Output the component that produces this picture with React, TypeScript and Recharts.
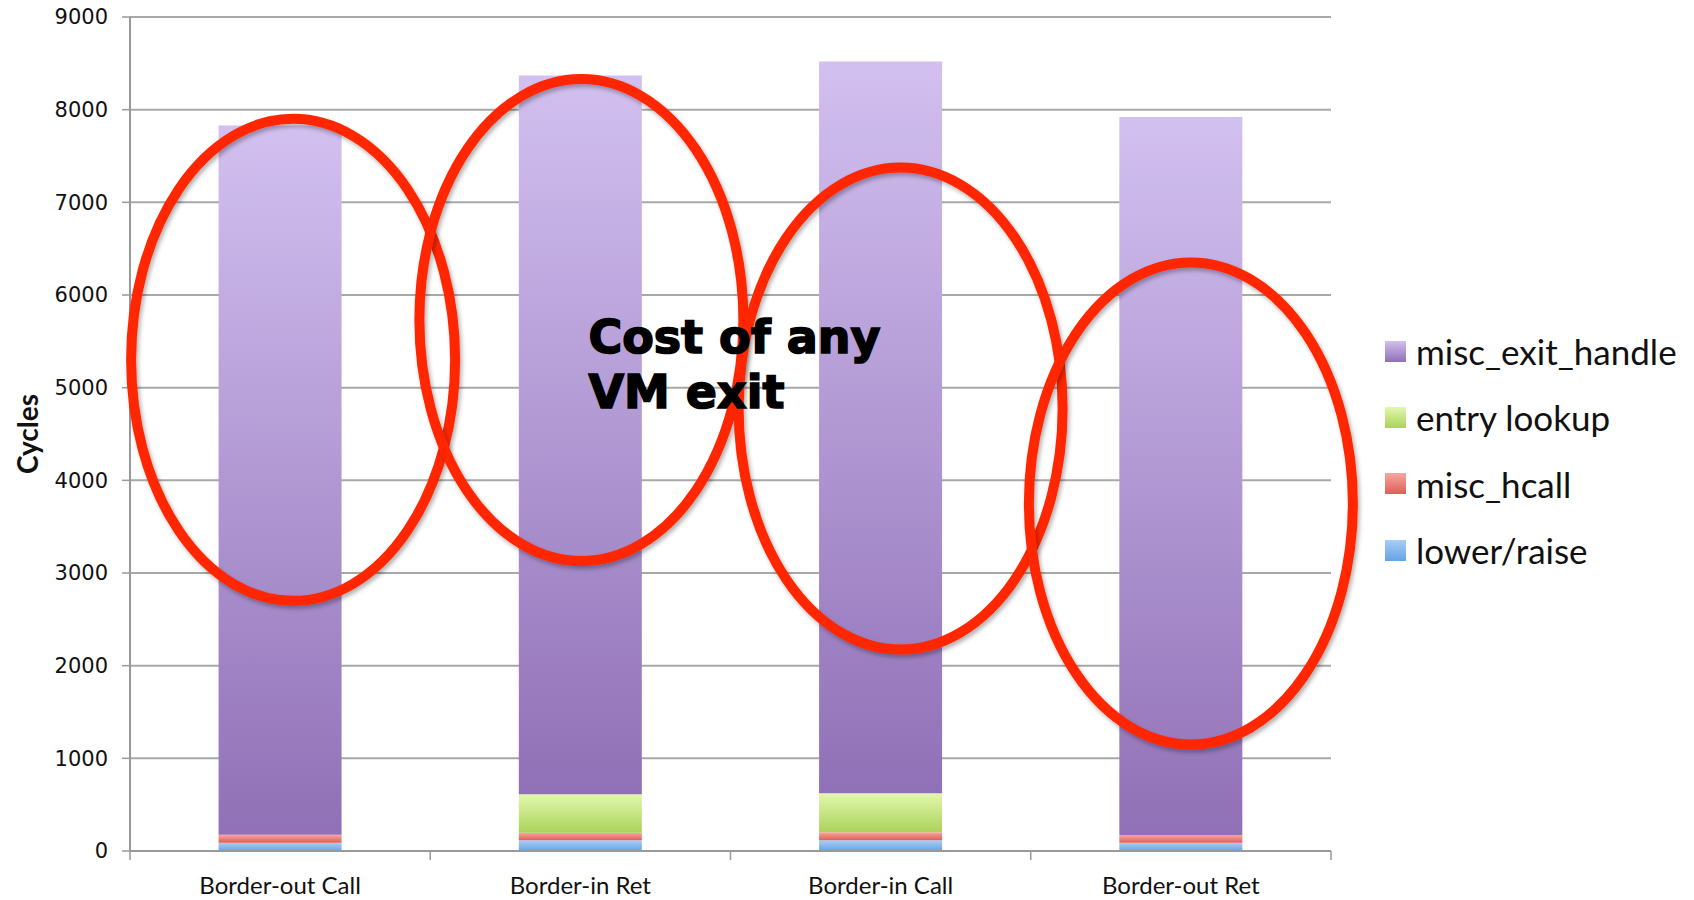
import React from "react";
import {
  Bar,
  BarChart,
  CartesianGrid,
  ReferenceDot,
  XAxis,
  YAxis,
} from "recharts";

const categories = [
  "Border-out Call",
  "Border-in Ret",
  "Border-in Call",
  "Border-out Ret",
];
const lowerRaise = [90, 115, 115, 88];
const miscHcall = [85, 82, 88, 84];
const entryLookup = [0, 415, 420, 0];
const miscExitHandle = [7655, 7758, 7897, 7748];
const yTicks = [0, 1000, 2000, 3000, 4000, 5000, 6000, 7000, 8000, 9000];

// red ovals drawn over the bars (centre in cycles, one per category)
const ovalCenters = [5300, 5730, 4775, 3750];
const ovalShift = [13, 1, 20, 10];
const calloutLines = ["Cost of any", "VM exit"];

const series = [
  { key: "lowerRaise", name: "lower/raise", top: "#a9cdf6", bottom: "#65a3e6" },
  { key: "miscHcall", name: "misc_hcall", top: "#f8a7a1", bottom: "#df5d55" },
  { key: "entryLookup", name: "entry lookup", top: "#e2f8ae", bottom: "#abd25a" },
  { key: "miscExitHandle", name: "misc_exit_handle", top: "#d2c0f0", bottom: "#9070b6" },
];

const data = categories.map((name, i) => ({
  name,
  lowerRaise: lowerRaise[i],
  miscHcall: miscHcall[i],
  entryLookup: entryLookup[i],
  miscExitHandle: miscExitHandle[i],
}));

function CategoryTick(props: any) {
  const { x, y, payload, index } = props;
  const half = payload.offset || 150;
  const last = index === categories.length - 1;
  return (
    <g>
      <line x1={x - half} x2={x - half} y1={y - 9} y2={y} stroke="#999" strokeWidth={1.5} />
      {last && (
        <line x1={x + half} x2={x + half} y1={y - 9} y2={y} stroke="#999" strokeWidth={1.5} />
      )}
      <text
        x={x}
        y={y + 34}
        textAnchor="middle"
        fontFamily="Lato, 'Open Sans', sans-serif"
        fontSize={24}
        fill="#111"
      >
        {payload.value}
      </text>
    </g>
  );
}

export default function App() {
  return (
    <div style={{ position: "absolute", left: 0, top: 0, width: 1694, height: 900, background: "#fff" }}>
      <BarChart
        width={1694}
        height={900}
        data={data}
        margin={{ top: 17, right: 363, bottom: 0, left: 0 }}
        barCategoryGap="29.5%"
      >
        <defs>
          {series.map((s) => (
            <linearGradient key={s.key} id={`grad-${s.key}`} x1="0" y1="0" x2="0" y2="1">
              <stop offset="0%" stopColor={s.top} />
              <stop offset="100%" stopColor={s.bottom} />
            </linearGradient>
          ))}
          <filter id="ovalShadow" x="-20%" y="-20%" width="140%" height="140%">
            <feDropShadow dx="2" dy="3" stdDeviation="2" floodColor="#000" floodOpacity="0.3" />
          </filter>
        </defs>
        <CartesianGrid vertical={false} stroke="#a8a8a8" strokeWidth={2} />
        <XAxis
          dataKey="name"
          interval={0}
          height={49}
          tickLine={false}
          tickSize={9}
          tickMargin={0}
          axisLine={{ stroke: "#999", strokeWidth: 2 }}
          tick={<CategoryTick />}
        />
        <YAxis
          width={130}
          domain={[0, 9000]}
          ticks={yTicks}
          interval={0}
          tickSize={8}
          tickMargin={14}
          axisLine={{ stroke: "#999", strokeWidth: 2 }}
          tickLine={{ stroke: "#999", strokeWidth: 1.5 }}
          tick={{ fontFamily: "'DejaVu Sans', sans-serif", fontSize: 21, fill: "#111" }}
          label={{
            content: ({ viewBox }: any) => (
              <text
                x={27}
                y={viewBox.y + viewBox.height / 2}
                transform={`rotate(-90 27 ${viewBox.y + viewBox.height / 2})`}
                textAnchor="middle"
                dominantBaseline="central"
                fontFamily="Lato, sans-serif"
                fontWeight="bold"
                fontSize={28}
                fill="#111"
              >
                Cycles
              </text>
            ),
          }}
        />
        {series.map((s) => (
          <Bar
            key={s.key}
            dataKey={s.key}
            name={s.name}
            stackId="a"
            fill={`url(#grad-${s.key})`}
            isAnimationActive={false}
          />
        ))}
        {categories.map((c, i) => (
          <ReferenceDot
            key={c}
            x={c}
            y={ovalCenters[i]}
            ifOverflow="visible"
            shape={(p: any) => (
              <ellipse
                cx={p.cx + ovalShift[i]}
                cy={p.cy}
                rx={162}
                ry={241}
                fill="none"
                stroke="#ff2600"
                strokeWidth={10}
                filter="url(#ovalShadow)"
              />
            )}
          />
        ))}
        <ReferenceDot
          x={categories[1]}
          y={5377}
          ifOverflow="visible"
          shape={(p: any) => (
            <text
              x={p.cx + 8}
              y={p.cy}
              fontFamily="'DejaVu Sans', sans-serif"
              fontWeight="bold"
              fontSize={46}
              fill="#000"
              stroke="#000"
              strokeWidth={1.6}
            >
              {calloutLines.map((line, k) => (
                <tspan key={line} x={p.cx + 8} dy={k === 0 ? 0 : 55}>
                  {line}
                </tspan>
              ))}
            </text>
          )}
        />
      </BarChart>
      <div style={{ position: "absolute", left: 1385, top: 318 }}>
        {[...series].reverse().map((s) => (
          <div
            key={s.key}
            style={{ display: "flex", alignItems: "center", height: 66.3 }}
          >
            <div
              style={{
                width: 21,
                height: 21,
                background: `linear-gradient(${s.top}, ${s.bottom})`,
                marginRight: 10,
              }}
            />
            <span style={{ fontFamily: "Lato, 'Open Sans', sans-serif", fontSize: 35, color: "#111" }}>
              {s.name}
            </span>
          </div>
        ))}
      </div>
    </div>
  );
}
